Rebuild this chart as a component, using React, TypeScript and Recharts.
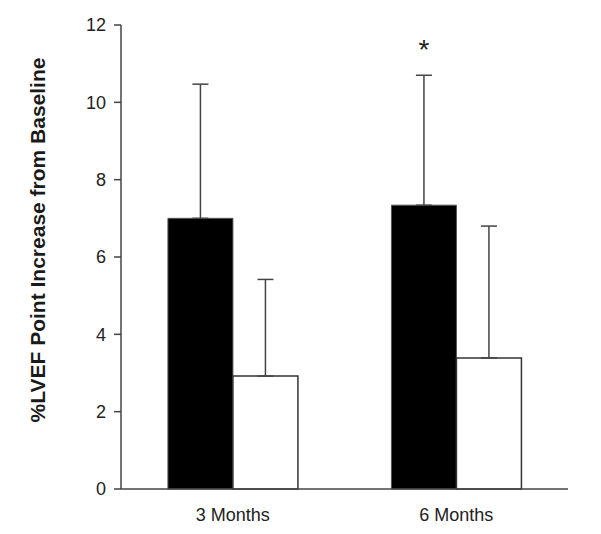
import React from 'react';
import { BarChart, Bar, XAxis, YAxis, ErrorBar, LabelList } from 'recharts';

const categories = ['3 Months', '6 Months'];
const blackValues = [7.0, 7.34];
const blackErrors = [3.47, 3.36];
const whiteValues = [2.92, 3.39];
const whiteErrors = [2.5, 3.41];
const significance = ['', '*'];
const yTicks = [0, 2, 4, 6, 8, 10, 12];
const yLabel = '%LVEF Point Increase from Baseline';

const data = categories.map((c, i) => ({
  name: c,
  black: blackValues[i],
  blackErr: [0, blackErrors[i]],
  white: whiteValues[i],
  whiteErr: [0, whiteErrors[i]],
}));

const FONT = '"Liberation Sans", Arial, sans-serif';
const AXIS = '#444';

const YLabel = (props: any) => {
  const vb = props.viewBox || {};
  const cx = 37;
  const cy = vb.y + vb.height / 2 - 17;
  return (
    <text
      x={cx}
      y={cy}
      transform={`rotate(-90, ${cx}, ${cy})`}
      textAnchor="middle"
      dominantBaseline="central"
      fontFamily={FONT}
      fontWeight="bold"
      fontSize={21}
      fill="#1a1a1a"
    >
      {yLabel}
    </text>
  );
};

const Star = (props: any) => {
  const { x, y, width, height, value, index } = props;
  const mark = significance[index];
  if (!mark) return null;
  const ppu = height / value;
  const errTop = y - blackErrors[index] * ppu;
  return (
    <text
      x={x + width / 2}
      y={errTop - 26}
      textAnchor="middle"
      dominantBaseline="central"
      fontFamily={FONT}
      fontSize={28}
      fill="#222"
    >
      {mark}
    </text>
  );
};

export default function App() {
  return (
    <div style={{ position: 'absolute', left: 0, top: 0, background: '#fff' }}>
      <BarChart
        width={601}
        height={534}
        data={data}
        margin={{ top: 25, right: 33, bottom: 15, left: 0 }}
        barCategoryGap="21%"
        barGap={0}
      >
        <XAxis
          dataKey="name"
          height={30}
          tickLine={false}
          axisLine={{ stroke: AXIS, strokeWidth: 1.5 }}
          tick={{ fontFamily: FONT, fontSize: 18, fill: '#222' }}
          tickMargin={13}
        />
        <YAxis
          width={121}
          domain={[0, 12]}
          ticks={yTicks}
          interval={0}
          axisLine={{ stroke: AXIS, strokeWidth: 1.5 }}
          tickLine={{ stroke: AXIS, strokeWidth: 1.5 }}
          tickSize={7}
          tickMargin={8}
          tick={{ fontFamily: FONT, fontSize: 18, fill: '#222' }}
          label={<YLabel />}
        />
        <Bar dataKey="black" fill="#000" stroke="#555" strokeWidth={1} isAnimationActive={false}>
          <ErrorBar dataKey="blackErr" direction="y" width={8} stroke="#444" strokeWidth={1.5} />
          <LabelList dataKey="black" content={<Star />} />
        </Bar>
        <Bar dataKey="white" fill="#fff" stroke="#333" strokeWidth={1.5} isAnimationActive={false}>
          <ErrorBar dataKey="whiteErr" direction="y" width={8} stroke="#444" strokeWidth={1.5} />
        </Bar>
      </BarChart>
    </div>
  );
}
